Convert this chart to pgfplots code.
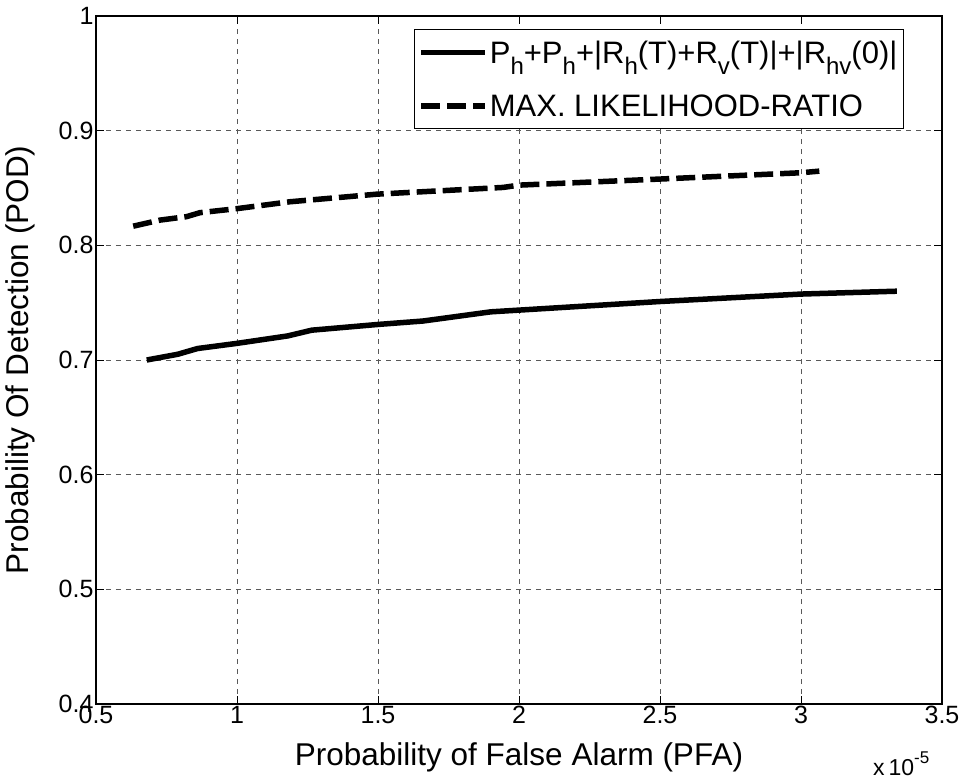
\documentclass[border=0pt]{standalone}
\usepackage{fontspec}
\setmainfont{Liberation Sans}
\usepackage{pgfplots}
\pgfplotsset{compat=1.18}
\usetikzlibrary{calc}

% MATLAB-style subscript: large and well below the baseline
\newcommand{\sub}[1]{\raisebox{-11pt}{\fontsize{24}{24}\selectfont #1}}

\begin{document}
\begin{tikzpicture}
\begin{axis}[
  name=ax,
  width=846pt, height=688pt, scale only axis,
  xmin=0.5, xmax=3.5, ymin=0.4, ymax=1,
  xtick={0.5,1,1.5,2,2.5,3,3.5},
  ytick={0.4,0.5,0.6,0.7,0.8,0.9,1},
  scaled x ticks=false,
  /pgf/number format/assume math mode=true,
  tick align=inside, major tick length=8pt,
  tick style={black, line width=0.8pt},
  axis line style={line width=1.2pt},
  grid=major,
  major grid style={black!65, line width=0.8pt, dash pattern=on 5pt off 5pt},
  ticklabel style={font=\fontsize{25}{29}\selectfont},
  xticklabel style={yshift=1pt},
  yticklabel style={xshift=1pt},
  label style={font=\fontsize{31.5}{36}\selectfont},
  xlabel={Probability of False Alarm (PFA)},
  ylabel={Probability Of Detection (POD)},
  xlabel style={at={(axis description cs:0.5,-0.077)}, anchor=center},
  ylabel style={at={(axis description cs:-0.0898,0.5)}, anchor=center, rotate=0},
  legend style={at={(rel axis cs:0.955,0.981)}, anchor=north east,
    draw=black, line width=1pt, fill=white,
    font=\fontsize{31}{36}\selectfont, inner xsep=4pt, inner ysep=9pt,
    row sep=26pt,
    /tikz/every even column/.append style={column sep=0pt}},
  legend cell align=left,
  legend image code/.code={\draw[#1] (0pt,0pt) -- (64pt,0pt);},
]

\addplot[black, line width=5.5pt] coordinates {
  (0.68,0.700) (0.79,0.705) (0.86,0.710) (1.0,0.7145) (1.18,0.721)
  (1.265,0.726) (1.5,0.731) (1.66,0.734) (1.78,0.738) (1.9,0.742)
  (2.0,0.7435) (2.5,0.751) (3.0,0.7575) (3.34,0.760)
};
\addlegendentry{P\sub{h}+P\sub{h}+|R\sub{h}(T)+R\sub{v}(T)|+|R\sub{hv}(0)|}

\addplot[black, line width=5.5pt, dash pattern=on 19pt off 7pt] coordinates {
  (0.632,0.8167) (0.727,0.822) (0.821,0.825) (0.869,0.8285) (1.0,0.832)
  (1.188,0.838) (1.495,0.8446) (1.944,0.8505) (2.0,0.8525) (2.5,0.8578)
  (3.0,0.8633) (3.065,0.8647)
};
\addlegendentry{MAX. LIKELIHOOD-RATIO}
\end{axis}
% exponent of the x axis, MATLAB style
\node[font=\fontsize{23}{27}\selectfont, anchor=base west, inner sep=0pt]
  at ($(ax.south west)+(777pt,-72pt)$)
  {x\,10\raisebox{12pt}{\fontsize{17}{17}\selectfont -5}};
\pgfresetboundingbox
\path[use as bounding box] ($(ax.south west)+(-96pt,-76pt)$) rectangle ($(ax.north east)+(19pt,16pt)$);
\end{tikzpicture}
\end{document}
